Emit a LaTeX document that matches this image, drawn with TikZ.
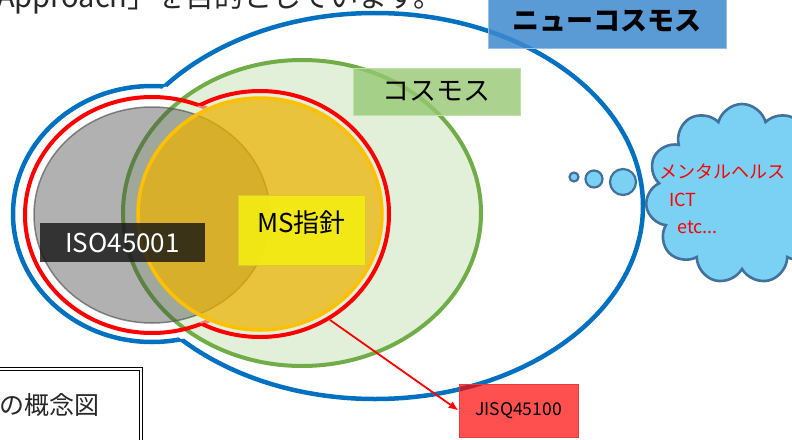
\documentclass[tikz,border=0pt]{standalone}
\usepackage{fontspec}
\setmainfont{Noto Sans CJK JP}
\usetikzlibrary{shapes.symbols,arrows.meta}
\definecolor{cblue}{RGB}{0,112,192}
\definecolor{cred}{RGB}{255,0,0}
\definecolor{cgreen}{RGB}{112,173,71}
\definecolor{cgreenfill}{RGB}{226,240,217}
\definecolor{cgray}{RGB}{70,70,70}
\definecolor{cgold}{RGB}{237,178,0}
\definecolor{corange}{RGB}{255,192,0}
\definecolor{cnewblue}{RGB}{62,137,206}
\definecolor{cnewblueline}{RGB}{150,190,230}
\definecolor{ccosmos}{RGB}{150,200,115}
\definecolor{ccosmosline}{RGB}{190,225,165}
\definecolor{cms}{RGB}{242,234,20}
\definecolor{cmsline}{RGB}{215,205,40}
\definecolor{ciso}{RGB}{20,20,20}
\definecolor{cjis}{RGB}{255,5,5}
\definecolor{cjisline}{RGB}{230,60,60}
\definecolor{cloudfill}{RGB}{122,209,244}
\definecolor{cloudline}{RGB}{65,113,156}
\definecolor{toptext}{RGB}{40,40,40}
\tikzset{
  ringblue/.style={draw=cblue, line width=4.5pt},
  ringred/.style={draw=cred, line width=4pt},
  labelbox/.style={rectangle, inner sep=0pt, text opacity=1, line width=0.8pt},
  cloudtxt/.style={text=cred, font=\fontsize{18}{20}\selectfont, inner sep=0pt, anchor=west},
  bubble/.style={circle, draw=cloudline, fill=cloudfill, line width=2.2pt, inner sep=0pt},
}
\begin{document}
\begin{tikzpicture}[x=1pt,y=-1pt]
\useasboundingbox (0,0) rectangle (792,439);
\clip (0,0) rectangle (792,439);

% top text (cut off)
\node[anchor=base west, inner sep=0, text=toptext, font=\fontsize{29}{30}\selectfont] (top) at (-3,7) {Approach」を目的としています。};

% blue union outline
\fill[white] (375,206) ellipse [x radius=268pt, y radius=193pt];
\fill[white] (152,214) ellipse [x radius=139pt, y radius=128pt];
\begin{scope}[even odd rule]
  \clip (-60,-60) rectangle (900,520) (152,214) ellipse [x radius=139pt, y radius=128pt];
  \draw[ringblue] (375,206) ellipse [x radius=268pt, y radius=193pt];
\end{scope}
\begin{scope}[even odd rule]
  \clip (-60,-60) rectangle (900,520) (375,206) ellipse [x radius=268pt, y radius=193pt];
  \draw[ringblue] (152,214) ellipse [x radius=139pt, y radius=128pt];
\end{scope}

% green ellipse (cosmos)
\draw[draw=cgreen, fill=cgreenfill, line width=4pt] (302,213) ellipse [x radius=179pt, y radius=153pt];

% red union outline
\begin{scope}[even odd rule]
  \clip (-60,-60) rectangle (900,520) (260,214) ellipse [x radius=129pt, y radius=123pt];
  \draw[ringred] (152,215) ellipse [x radius=127pt, y radius=118pt];
\end{scope}
\begin{scope}[even odd rule]
  \clip (-60,-60) rectangle (900,520) (152,215) ellipse [x radius=127pt, y radius=118pt];
  \draw[ringred] (260,214) ellipse [x radius=129pt, y radius=123pt];
\end{scope}
\begin{scope}[even odd rule]
  \clip (260,214) ellipse [x radius=129pt, y radius=123pt];
  \clip (-60,-60) rectangle (900,520) (260,214) ellipse [x radius=124pt, y radius=118pt];
  \draw[ringred, draw opacity=0.45] (152,215) ellipse [x radius=127pt, y radius=118pt];
\end{scope}

% gray ISO ellipse
\draw[fill=cgray, fill opacity=0.42, draw=black!65, draw opacity=0.7, line width=1.5pt] (152,215) ellipse [x radius=118pt, y radius=108pt];
% yellow MS ellipse
\draw[fill=cgold, fill opacity=0.72, draw=corange, line width=3.5pt] (260,214) ellipse [x radius=122pt, y radius=116pt];

% thought cloud
\node[cloud, cloud puffs=11, aspect=1.1, draw=cloudline, fill=cloudfill, line width=2.6pt, minimum width=193pt, minimum height=180pt, inner sep=0pt] (cloud) at (742,194) {};
\node[bubble, minimum size=9pt] (b1) at (574,177) {};
\node[bubble, minimum size=17pt] (b2) at (594,179) {};
\node[bubble, minimum size=26pt] (b3) at (623,182) {};
\node[cloudtxt] (mh) at (659,172) {メンタルヘルス};
\node[cloudtxt] (ict) at (669,200) {ICT};
\node[cloudtxt] (etc) at (677,227) {etc...};

% label boxes
\node[labelbox, fill=cnewblue, fill opacity=0.85, draw=cnewblueline, minimum width=238pt, minimum height=53pt, font=\fontsize{27}{28}\selectfont\bfseries] (newcosmos) at (607,21.5) {ニューコスモス};
\node[labelbox, fill=ccosmos, fill opacity=0.8, draw=ccosmosline, minimum width=167pt, minimum height=47pt, font=\fontsize{27}{28}\selectfont] (cosmos) at (436.5,91.5) {コスモス};
\node[labelbox, fill=cms, fill opacity=0.95, draw=cmsline, minimum width=127pt, minimum height=70pt, text height=23pt, text depth=19pt, font=\fontsize{26}{28}\selectfont] (ms) at (301.5,230) {MS指針};
\node[labelbox, fill=ciso, fill opacity=0.8, text=white, minimum width=165pt, minimum height=39pt, font=\fontsize{26}{28}\selectfont] (iso) at (122.5,242.5) {ISO45001};
\node[labelbox, fill=cjis, fill opacity=0.7, draw=cjisline, minimum width=119pt, minimum height=53pt, font=\fontsize{17.5}{19}\selectfont] (jis) at (518.5,410.5) {JISQ45100};

\coordinate (as) at (330,320);
\draw[cred, line width=1.8pt, -{Latex[length=10pt,width=8pt]}] (as) -- (jis.west);

% caption box
\draw[draw=black, double=white, double distance=2.6pt, line width=1pt] (-10,369) rectangle (141,460);
\node[inner sep=0pt, anchor=west, font=\fontsize{25}{26}\selectfont, text=toptext] (caption) at (-1,405) {の概念図};
\end{tikzpicture}
\end{document}
